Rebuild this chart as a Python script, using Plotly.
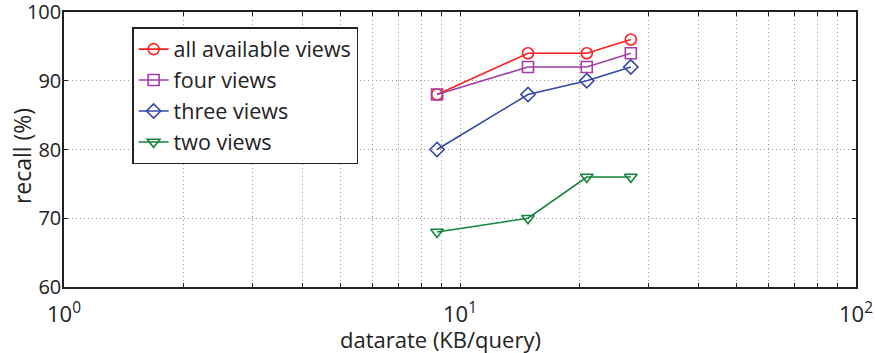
import plotly.graph_objects as go

datarate = [8.75, 14.85, 20.9, 27.0]
all_views = [88, 94, 94, 96]
four_views = [88, 92, 92, 94]
three_views = [80, 88, 90, 92]
two_views = [68, 70, 76, 76]

series = [
    ("all available views", all_views, "#ff1f1f", "circle-open"),
    ("four views", four_views, "#a23ea6", "square-open"),
    ("three views", three_views, "#3548a8", "diamond-open"),
    ("two views", two_views, "#13843a", "triangle-down-open"),
]

x_tickvals = [1, 2, 3, 4, 5, 6, 7, 8, 9, 10, 20, 30, 40, 50, 60, 70, 80, 90, 100]
x_ticktext = ["10<sup>0</sup>" if v == 1 else "10<sup>1</sup>" if v == 10 else "10<sup>2</sup>" if v == 100 else "" for v in x_tickvals]
y_tickvals = [60, 70, 80, 90, 100]
x_title = "datarate (KB/query)"
y_title = "recall (%)"

FONT = "Open Sans, Lato, sans-serif"

fig = go.Figure()
for name, vals, color, sym in series:
    fig.add_trace(go.Scatter(
        x=datarate, y=vals, name=name, mode="lines+markers",
        line=dict(color=color, width=1.6),
        marker=dict(symbol=sym, size=11, color=color, line=dict(width=1.6, color=color)),
    ))

fig.update_layout(
    width=875, height=353,
    margin=dict(l=64, r=19, t=12, b=66),
    paper_bgcolor="white", plot_bgcolor="white",
    font=dict(family=FONT, size=21, color="#222"),
    legend=dict(
        x=0.086, y=0.945, xanchor="left", yanchor="top",
        bgcolor="white", bordercolor="#222", borderwidth=1.5,
        font=dict(size=21.5, family=FONT), tracegroupgap=0,
    ),
    showlegend=True,
    annotations=[
        dict(text=x_title, xref="paper", yref="paper", x=0.475, y=-0.188,
             xanchor="center", yanchor="middle", showarrow=False,
             font=dict(size=22, family=FONT, color="#222")),
        dict(text=y_title, xref="paper", yref="paper", x=-0.053, y=0.476,
             xanchor="center", yanchor="middle", showarrow=False, textangle=-90,
             font=dict(size=23, family=FONT, color="#222")),
    ],
)
grid = dict(showgrid=True, gridcolor="#9a9a9a", griddash="1px,3px", gridwidth=1,
            ticks="inside", ticklen=4, tickcolor="#222",
            showline=True, linecolor="#222", linewidth=1.5, mirror="ticks",
            zeroline=False, automargin=False, ticklabeloverflow="allow")
fig.update_xaxes(
    type="log", range=[0, 2],
    tickvals=x_tickvals, ticktext=x_ticktext,
    tickfont=dict(size=22, family=FONT), ticklabelstandoff=7,
    **grid,
)
fig.update_yaxes(
    range=[60, 100], tickvals=y_tickvals,
    tickfont=dict(size=20, family=FONT), ticklabelstandoff=-3,
    **grid,
)

fig.write_html("out.html", config={"displayModeBar": False},
               post_script="document.body.style.margin='0px';document.body.style.padding='0px';")
